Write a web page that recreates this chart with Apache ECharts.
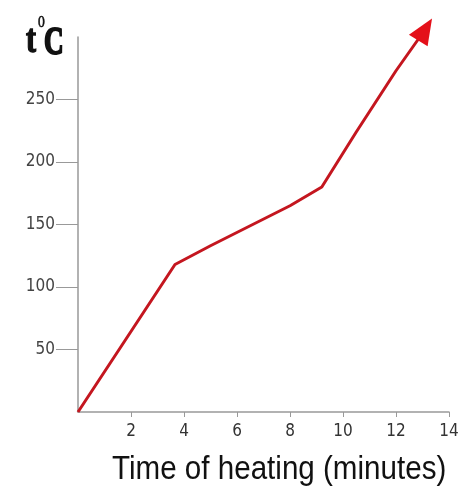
<!DOCTYPE html>
<html>
<head>
<meta charset="utf-8">
<script src="https://cdn.jsdelivr.net/npm/echarts@6/dist/echarts.min.js"></script>
<style>
  html, body { margin: 0; padding: 0; background: #fff; }
</style>
</head>
<body>
<div id="chart" style="width: 466px;height: 499px;"></div>
<script>
// heating curve
var timeMin = [0, 1.8, 3.66, 5, 6.5, 8, 9.2, 10.5, 12, 13.1]
var tempC = [0, 58, 118, 133, 149, 165, 180, 224, 273, 306]
var xTicks = [2, 4, 6, 8, 10, 12, 14]
var yTicks = [50, 100, 150, 200, 250]

var points = timeMin.map(function (t, i) { return [t, tempC[i]] })
// arrow head on the last point
points[points.length - 1] = {
  value: points[points.length - 1],
  symbol: 'triangle',
  symbolSize: [22, 26],
  symbolRotate: -32,
  itemStyle: { color: '#e4101a' }
}

var chart = echarts.init(document.getElementById('chart'))
var narrow = '"DejaVu Sans Condensed", "Liberation Sans Narrow", "Liberation Sans", sans-serif'

var option = {
  animation: false,
  grid: { left: 78, right: 17, top: 37, bottom: 87 },
  xAxis: {
    type: 'value',
    min: 0,
    max: 14,
    interval: 2,
    axisLine: { lineStyle: { color: '#999', width: 1.5 } },
    axisTick: { customValues: xTicks, length: 5, lineStyle: { color: '#999' } },
    axisLabel: {
      customValues: xTicks,
      margin: 11,
      color: '#333',
      fontSize: 17,
      fontFamily: narrow
    },
    splitLine: { show: false }
  },
  yAxis: {
    type: 'value',
    min: 0,
    max: 300,
    interval: 50,
    axisLine: { show: true, lineStyle: { color: '#999', width: 1.5 } },
    axisTick: { customValues: yTicks, length: 22, lineStyle: { color: '#999' } },
    axisLabel: {
      customValues: yTicks,
      margin: 23,
      color: '#444',
      fontSize: 17,
      fontFamily: narrow
    },
    splitLine: { show: false }
  },
  graphic: [
    // axis unit  t°C, stroked a little to look as heavy as the original
    { type: 'text', x: 26, y: 22, scaleX: 0.75,
      style: { text: 't', font: 'bold 40px "Liberation Serif", serif', fill: '#111', stroke: '#111', lineWidth: 1.5 } },
    { type: 'text', x: 38, y: 14, scaleX: 0.8,
      style: { text: '0', font: '17px "Liberation Serif", serif', fill: '#111', stroke: '#111', lineWidth: 0.6 } },
    { type: 'text', x: 44, y: 24, scaleX: 0.68,
      style: { text: 'C', font: 'bold 40px "Liberation Serif", serif', fill: '#111', stroke: '#111', lineWidth: 2 } },
    { type: 'text', x: 112, y: 453, scaleX: 0.87,
      style: { text: 'Time of heating (minutes)', font: '34px "Liberation Sans", Arial, sans-serif', fill: '#111' } }
  ],
  series: [{
    type: 'line',
    data: points,
    symbol: 'none',
    clip: false,
    lineStyle: { color: '#c4161f', width: 3 },
    itemStyle: { color: '#e4101a' }
  }]
}
chart.setOption(option)
</script>
</body>
</html>
